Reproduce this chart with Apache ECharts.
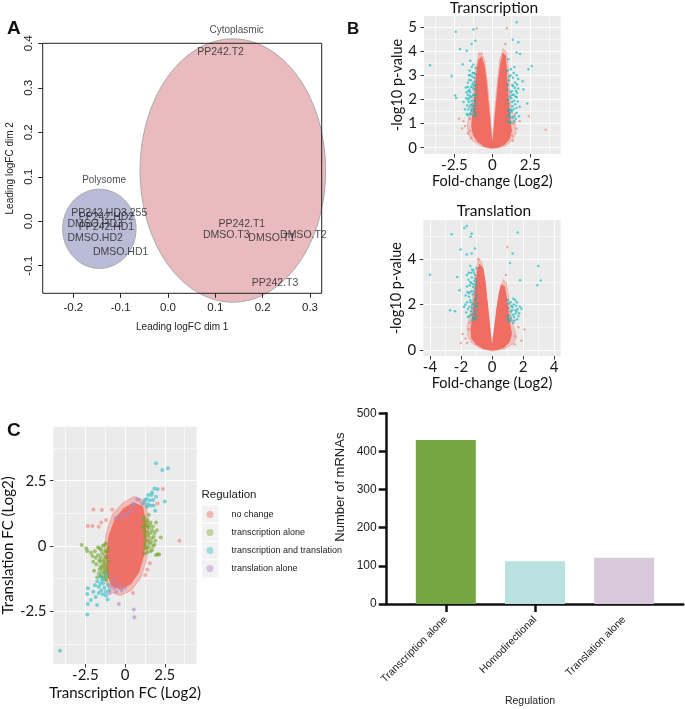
<!DOCTYPE html>
<html><head><meta charset="utf-8">
<script src="https://cdn.jsdelivr.net/npm/echarts@6/dist/echarts.min.js"></script>
<style>html,body{margin:0;padding:0;background:#fff}#c{width:685px;height:709px}</style>
</head><body><div id="c"></div>
<script>
// ---------- Panel A (MDS plot) ----------
const pcaSamples = ['PP242.T2','PP242.T1','DMSO.T3','DMSO.T1','DMSO.T2','PP242.T3','PP242.HD3.255','PP242.HD2','DMSO.HD3','PP242.HD1','DMSO.HD2','DMSO.HD1'];
const pcaDim1 = [0.111, 0.156, 0.123, 0.219, 0.286, 0.226, -0.124, -0.130, -0.154, -0.130, -0.154, -0.100];
const pcaDim2 = [0.381, -0.007, -0.032, -0.038, -0.032, -0.138, 0.019, 0.009, -0.006, -0.013, -0.038, -0.069];
const groupNames = ['Cytoplasmic', 'Polysome'];
const groupCenterX = [0.137, -0.145];
const groupCenterY = [0.114, -0.017];
const groupRadiusX = [0.196, 0.0775];
const groupRadiusY = [0.296, 0.089];
const groupLabelX = [0.145, -0.135];
const groupLabelY = [0.430, 0.092];
const pcaTicksX = [-0.2, -0.1, 0.0, 0.1, 0.2, 0.3];
const pcaTicksY = [-0.1, 0.0, 0.1, 0.2, 0.3, 0.4];

// ---------- Panel B (volcano plots) ----------
const txCore = [[0,0],[-0.5,0.05],[-0.95,0.25],[-1.25,0.55],[-1.35,0.9],[-1.3,1.3],[-1.2,1.8],[-1.12,2.4],[-1.05,2.9],[-0.98,3.3],[-0.88,3.65],[-0.72,3.75],[-0.55,3.4],[-0.42,2.8],[-0.3,2.0],[-0.18,1.2],[-0.07,0.4],[0,0.15],[0.07,0.4],[0.18,1.2],[0.3,2.0],[0.42,2.8],[0.55,3.45],[0.7,3.9],[0.85,3.8],[0.92,3.2],[0.98,2.6],[1.05,1.9],[1.15,1.2],[1.25,0.7],[1.1,0.35],[0.75,0.12],[0.35,0.02]];
const txHalo = [[0,-0.05],[-0.7,0.05],[-1.3,0.3],[-1.6,0.6],[-1.65,1.0],[-1.45,1.4],[-1.32,2.0],[-1.22,2.6],[-1.12,3.1],[-1.02,3.5],[-0.9,3.85],[-0.7,3.95],[-0.5,3.6],[-0.36,2.9],[-0.22,2.0],[-0.1,1.0],[0,0.45],[0.1,1.0],[0.22,2.0],[0.36,2.9],[0.5,3.7],[0.72,4.1],[0.93,3.95],[1.03,3.4],[1.1,2.7],[1.18,2.0],[1.32,1.4],[1.5,1.0],[1.55,0.6],[1.3,0.3],[0.8,0.05]];
const txRed = [[-2.0,0.8],[-1.8,0.9],[-1.6,0.6],[-1.5,1.2],[-1.9,1.1],[1.5,1.4],[1.6,0.8],[2.4,1.3],[3.5,0.75],[-1.03,4.95],[0.95,4.95],[-0.85,3.9],[0.85,4.3],[1.3,0.5],[-1.4,0.4],[1.8,1.1],[-2.2,1.2],[1.4,1.0],[-1.45,0.7],[1.35,0.3]];
const txTeal = [[1.6,5.2],[-2.41,4.81],[-1.25,4.9],[-1.12,4.43],[-2.13,4.09],[1.34,4.48],[1.71,4.37],[-1.36,4.3],[-4.1,3.42],[-1.69,4.02],[-1.95,3.46],[1.6,3.95],[1.82,3.88],[1.05,3.67],[2.59,3.39],[2.37,3.25],[2.0,2.76],[-2.68,2.97],[-2.45,2.16],[-2.39,2.06],[2.3,1.83],[2.04,2.41],
[-1.1,3.3],[-1.3,3.1],[-1.5,3.2],[-1.2,2.9],[-1.4,2.8],[-1.6,2.7],[-1.1,2.6],[-1.3,2.5],[-1.5,2.4],[-1.7,2.3],[-1.2,2.2],[-1.4,2.1],[-1.6,2.0],[-1.1,1.9],[-1.3,1.8],[-1.5,1.7],[-1.8,1.6],[-1.2,1.5],[-1.4,1.4],[-1.6,1.35],[-1.15,1.3],[-1.9,1.9],[-1.25,2.7],[-1.45,2.3],[-1.35,1.6],[-1.55,1.9],[-1.05,2.4],[-1.75,2.5],[-1.2,1.35],[-1.45,3.0],
[-1.08,1.42],[-1.18,1.62],[-1.28,1.72],[-1.38,1.95],[-1.48,2.15],[-1.58,2.35],[-1.12,2.05],[-1.22,2.42],[-1.32,2.62],[-1.42,2.52],[-1.52,2.82],[-1.62,2.52],[-1.12,2.75],[-1.22,3.1],[-1.35,3.35],[-1.55,3.0],[-1.65,1.75],[-1.72,2.05],[-1.08,1.75],[-1.18,2.58],[-1.28,2.18],[-1.38,1.52],[-1.48,1.42],[-1.58,1.58],[-1.68,1.4],[-1.12,3.05],[-1.25,3.45],[-1.45,3.6],[-1.02,2.2],[-1.42,1.78],[-1.52,2.05],[-1.62,2.2],[-1.32,2.95],[-1.22,1.95],
[1.0,3.2],[1.2,3.0],[1.4,3.1],[1.1,2.8],[1.3,2.6],[1.5,2.7],[1.0,2.4],[1.2,2.3],[1.4,2.2],[1.6,2.1],[1.05,2.0],[1.3,1.9],[1.5,1.8],[1.1,1.6],[1.3,1.5],[1.6,1.45],[1.0,1.3],[1.2,1.25],[1.45,1.3],[1.8,1.7],[1.7,2.45],[1.25,2.05],[1.55,2.35],[1.15,1.45],[1.35,2.9],[1.25,1.05],[1.45,1.1],
[1.02,1.12],[1.12,1.35],[1.22,1.55],[1.32,1.72],[1.42,1.95],[1.52,2.12],[1.62,2.28],[1.08,1.82],[1.18,2.12],[1.28,2.35],[1.38,2.55],[1.48,2.48],[1.58,1.65],[1.68,1.92],[1.02,2.62],[1.12,2.95],[1.22,3.25],[1.45,3.35],[1.6,3.0],[1.05,1.55],[1.15,1.05],[1.35,1.25],[1.55,1.2],[1.75,1.3],[1.3,2.2],[1.4,1.6],[1.62,2.62],[1.7,2.85]];
const tlCore = [[0,0],[-0.5,0.05],[-1.0,0.25],[-1.3,0.5],[-1.35,0.9],[-1.25,1.4],[-1.15,2.0],[-1.08,2.6],[-1.0,3.1],[-0.92,3.5],[-0.8,3.75],[-0.6,3.6],[-0.45,3.0],[-0.3,2.0],[-0.18,1.2],[-0.07,0.4],[0,0.15],[0.08,0.4],[0.2,1.1],[0.32,1.8],[0.45,2.4],[0.6,2.85],[0.8,2.8],[0.95,2.2],[1.05,1.6],[1.15,1.1],[1.25,0.7],[1.1,0.35],[0.75,0.12],[0.35,0.02]];
const tlHalo = [[0,-0.05],[-0.7,0.05],[-1.3,0.3],[-1.55,0.6],[-1.6,1.0],[-1.42,1.5],[-1.28,2.1],[-1.18,2.7],[-1.08,3.2],[-0.98,3.7],[-0.85,4.05],[-0.65,3.85],[-0.5,3.2],[-0.35,2.2],[-0.2,1.3],[-0.08,0.6],[0,0.4],[0.1,0.7],[0.24,1.3],[0.38,2.1],[0.53,2.7],[0.73,3.1],[0.93,2.95],[1.08,2.3],[1.18,1.7],[1.32,1.2],[1.5,0.8],[1.55,0.5],[1.3,0.25],[0.8,0.05]];
const tlRed = [[-1.7,0.5],[-1.5,0.9],[-1.9,0.7],[1.5,0.6],[1.7,1.0],[2.1,0.9],[0.99,4.54],[0.9,3.3],[-0.9,4.0],[1.3,1.3],[-1.45,1.2],[1.9,0.4],[-2.0,0.3],[-1.6,0.3],[1.45,0.25]];
const tlTeal = [[-1.63,5.47],[-1.78,5.38],[-2.6,5.1],[-1.31,5.13],[-1.38,4.99],[1.66,5.18],[-4.0,3.32],[-2.02,4.43],[-1.63,4.21],[-1.31,4.25],[-1.1,4.47],[1.33,4.25],[1.16,3.84],[2.99,3.7],[3.14,3.06],[2.92,2.85],[1.81,3.07],[-2.1,2.63],[-2.24,3.22],[-2.71,1.75],[-2.39,1.71],[1.38,2.26],[1.59,1.68],[1.91,1.82],
[-1.0,3.6],[-1.2,3.5],[-1.4,3.7],[-1.1,3.3],[-1.3,3.2],[-1.5,3.4],[-1.0,3.0],[-1.2,2.9],[-1.4,3.0],[-1.6,2.8],[-1.05,2.7],[-1.3,2.6],[-1.5,2.5],[-1.7,2.4],[-1.0,2.4],[-1.15,2.2],[-1.4,2.2],[-1.6,2.1],[-1.1,1.95],[-1.3,1.85],[-1.55,1.8],[-1.0,1.7],[-1.2,1.6],[-1.45,1.5],[-1.1,1.35],[-1.3,1.3],[-1.8,1.9],[-1.25,2.45],[-0.95,2.05],[-1.35,1.55],
[-0.98,1.45],[-1.08,1.6],[-1.18,1.78],[-1.28,1.98],[-1.38,2.1],[-1.48,2.35],[-1.58,2.55],[-1.02,2.28],[-1.12,2.55],[-1.22,2.78],[-1.32,2.95],[-1.42,2.85],[-1.52,3.1],[-1.62,3.3],[-1.08,3.15],[-1.18,3.4],[-1.28,3.55],[-1.02,2.85],[-1.22,2.05],[-1.35,1.7],[-1.45,1.9],[-1.55,1.45],[-1.65,1.65],[-1.72,2.0],[-1.12,1.4],[-1.25,1.42],[-0.95,1.9],[-1.4,2.55],[-1.15,3.05],[-1.35,3.4],
[1.0,2.2],[1.2,2.1],[1.4,2.0],[1.6,2.1],[1.05,1.85],[1.3,1.75],[1.5,1.6],[1.7,1.5],[1.0,1.5],[1.2,1.4],[1.45,1.3],[1.1,1.25],[1.8,1.9],[1.35,1.55],[1.55,1.95],
[1.02,1.35],[1.12,1.52],[1.22,1.68],[1.32,1.88],[1.42,1.45],[1.52,1.75],[1.62,1.35],[1.08,2.05],[1.25,1.95],[1.65,1.8],[1.75,1.62],[1.18,1.3],[1.38,1.2],[1.5,2.2]];
const txTicksX = [-2.5, 0, 2.5];
const txMinorX = [-3.75, -1.25, 1.25, 3.75];
const txTicksY = [0, 1, 2, 3, 4, 5];
const txMinorY = [0.5, 1.5, 2.5, 3.5, 4.5];
const tlTicksX = [-4, -2, 0, 2, 4];
const tlMinorX = [-3, -1, 1, 3];
const tlTicksY = [0, 2, 4];
const tlMinorY = [1, 3, 5];

// ---------- Panel C (FC scatter) ----------
const scCore = [[1.1,1.5],[1.28,0.9],[1.3,0.3],[1.15,-0.4],[0.85,-1.0],[0.35,-1.45],[-0.3,-1.65],[-0.85,-1.5],[-1.12,-1.0],[-1.15,-0.3],[-1.0,0.4],[-0.6,1.05],[-0.05,1.45],[0.55,1.65]];
const scHalo = [[1.3,1.7],[1.45,1.0],[1.5,0.3],[1.35,-0.5],[1.0,-1.2],[0.4,-1.7],[-0.3,-1.9],[-0.95,-1.75],[-1.3,-1.2],[-1.35,-0.4],[-1.2,0.45],[-0.8,1.2],[-0.15,1.65],[0.6,1.9]];
const scNoChange = [[-1.99,1.4],[-2.34,0.77],[-2.05,0.77],[-1.66,0.74],[-1.46,1.38],[3.42,0.2],[2.38,2.18],[2.05,1.63],[1.27,-1.11],[1.56,-0.66],[-1.5,0.9],[-1.2,1.0],[-0.8,1.4],[0.5,-1.8],[1.4,-0.9]];
const scTxAlone = [[-2.73,0.04],[-2.44,-0.09],[-2.38,-0.19],[-2.05,-0.38],[-2.15,-0.26],[-1.2,0.1],[-1.4,0.0],[-1.6,-0.1],[-1.25,-0.2],[-1.45,-0.3],[-1.7,-0.35],[-1.15,-0.45],[-1.35,-0.55],[-1.55,-0.6],[-1.2,-0.75],[-1.4,-0.85],[-1.6,-0.9],[-1.1,-1.0],[-1.3,-1.05],[-1.5,-1.15],[-1.75,-1.2],[-1.8,-0.7],[-1.9,-0.2],[-1.05,-0.1],[-1.2,-1.3],
[-1.12,-0.2],[-1.22,-0.4],[-1.32,-0.65],[-1.42,-0.75],[-1.52,-0.45],[-1.62,-0.55],[-1.15,-0.85],[-1.25,-0.95],[-1.35,-1.2],[-1.45,-1.0],[-1.55,-0.8],[-1.65,-1.05],[-1.05,-0.6],[-1.1,-1.2],[-1.3,0.05],[-1.5,-0.15],[-1.7,-0.05],[-1.85,-0.45],[-2.0,-0.6],[-1.95,-0.95],
[1.2,1.1],[1.4,1.0],[1.3,0.8],[1.5,0.7],[1.7,0.6],[1.25,0.5],[1.45,0.4],[1.65,0.3],[1.85,0.5],[1.3,0.2],[1.55,0.1],[1.75,0.0],[1.35,-0.1],[1.6,-0.2],[1.9,0.2],[1.2,-0.3],[1.4,0.55],[2.25,0.33],[1.95,-0.34],[2.05,-0.32],[2.15,-0.33],[1.6,0.9],[1.1,0.75],
[1.15,1.0],[1.35,0.9],[1.55,0.8],[1.75,0.75],[1.2,0.65],[1.4,0.75],[1.6,0.5],[1.8,0.35],[1.25,0.35],[1.45,0.2],[1.65,0.15],[1.85,0.05],[1.3,-0.05],[1.5,-0.05],[1.7,-0.15],[1.4,-0.25],[1.25,0.05],[2.0,0.6],[1.95,0.9],[1.5,1.2]];
const scBoth = [[1.95,3.17],[2.34,2.91],[2.7,2.98],[2.05,2.17],[1.95,1.89],[2.5,1.7],[1.46,1.95],[1.66,1.95],[1.76,1.76],[1.17,1.63],[1.37,1.5],[1.55,1.75],[1.25,1.75],[1.8,1.55],
[1.45,1.6],[1.6,1.55],[1.7,2.05],[1.85,2.2],[1.35,1.8],[1.9,1.35],
[-2.34,-1.62],[-2.38,-1.84],[-2.15,-2.07],[-2.34,-2.22],[-1.76,-2.26],[-2.38,-2.62],[-4.1,-4.01],[-1.56,-1.17],[-1.46,-1.3],[-1.17,-1.11],[-1.37,-1.43],[-1.21,-1.75],[-1.07,-1.49],[-1.66,-1.56],[-1.3,-1.6],[-1.5,-1.7],[-1.2,-1.9],[-1.0,-1.7],[-1.9,-1.5],[-1.75,-1.35],
[-1.35,-1.25],[-1.55,-1.45],[-1.65,-1.8],[-1.4,-1.85],[-1.1,-2.05],[-1.85,-1.95],[-2.0,-1.75]];
const scTlAlone = [[0.88,1.76],[0.59,1.57],[0.39,1.38],[0.2,1.25],[0.0,1.19],[-0.59,1.06],[1.07,1.63],[0.75,1.8],[-0.3,1.15],[0.5,1.6],
[-0.78,-1.3],[-0.49,-1.43],[-0.29,-1.56],[-0.68,-1.62],[-0.98,-1.81],[-0.39,-2.22],[0.55,-2.43],[0.59,-2.73],[-0.2,-1.7],[-0.55,-1.75],[0.0,-1.6],[-0.85,-1.55]];
const scTicks = [-2.5, 0, 2.5];
const scMinor = [-3.75, -1.25, 1.25, 3.75];
const regulationNames = ['no change', 'transcription alone', 'transcription and translation', 'translation alone'];

// ---------- Bar chart ----------
const barCategories = ['Transcription alone', 'Homodirectional', 'Translation alone'];
const barValues = [430, 112, 121];
const barPositions = [1, 2, 3];

// ================= rendering =================
const FR = '"Liberation Sans", Arial, sans-serif';
const FG = 'Lato, "Open Sans", sans-serif';
const chart = echarts.init(document.getElementById('c'), null, {renderer: 'canvas'});

function ggMajor(grid, min, max, ticks, isY, name, nameGap, extra) {
  return Object.assign({
    gridIndex: grid, type: 'value', min: min, max: max,
    name: name, nameLocation: 'middle', nameGap: nameGap,
    nameTextStyle: {fontFamily: FG, fontSize: 14.5, color: '#111'},
    axisLine: {show: false, onZero: false},
    axisTick: {show: true, inside: false, length: 3.5, customValues: ticks, lineStyle: {color: '#333', width: 1}},
    axisLabel: {customValues: ticks, fontFamily: FG, fontSize: 15, color: '#1a1a1a', margin: isY ? 7 : 4},
    splitLine: {show: true, lineStyle: {color: '#ffffff', width: 1.1}}
  }, extra || {});
}
function ggMinor(grid, min, max, ticks) {
  return {
    gridIndex: grid, type: 'value', min: min, max: max,
    axisLine: {show: false, onZero: false},
    axisTick: {show: false, customValues: ticks},
    axisLabel: {show: false},
    splitLine: {show: true, lineStyle: {color: '#ffffff', width: 0.6}}
  };
}
function polygonRenderer(outline, color) {
  return function (params, api) {
    if (params.dataIndex !== 0) return null;
    const pts = outline.map(p => api.coord(p));
    return {type: 'polygon', shape: {points: pts}, style: {fill: color, stroke: color, lineWidth: 1.2}};
  };
}

const TX = [-4.5, 4.5], TY = [-0.26, 5.46];
const LX = [-4.43, 4.43], LY = [-0.27, 5.72];
const CX = [-4.51, 4.51], CY = [-4.52, 4.57];
const tpad = {padding: 0};

const option = {
  animation: false,
  backgroundColor: '#ffffff',
  title: [
    Object.assign({text: 'A', left: 7, top: 19, textStyle: {fontFamily: FR, fontSize: 19, fontWeight: 'bold', color: '#111'}}, tpad),
    Object.assign({text: 'B', left: 347, top: 21, textStyle: {fontFamily: FR, fontSize: 17, fontWeight: 'bold', color: '#111'}}, tpad),
    Object.assign({text: 'C', left: 7, top: 421, textStyle: {fontFamily: FR, fontSize: 19, fontWeight: 'bold', color: '#111'}}, tpad),
    Object.assign({text: 'Transcription', left: 494, top: 0, textAlign: 'center', textStyle: {fontFamily: FG, fontSize: 15.5, fontWeight: 'normal', color: '#111'}}, tpad),
    Object.assign({text: 'Translation', left: 494, top: 203, textAlign: 'center', textStyle: {fontFamily: FG, fontSize: 15.5, fontWeight: 'normal', color: '#111'}}, tpad),
    Object.assign({text: 'Regulation', left: 201.5, top: 489, textStyle: {fontFamily: FR, fontSize: 11.5, fontWeight: 'normal', color: '#222'}}, tpad)
  ],
  graphic: [0, 1, 2, 3].map(i => ({type: 'rect', left: 202, top: 505.5 + i * 18.3, shape: {width: 16.5, height: 17}, style: {fill: '#f2f2f2'}, z: 0})),
  legend: {
    orient: 'vertical', left: 206.5, top: 510, padding: 0, itemWidth: 7, itemHeight: 7, itemGap: 9, selectedMode: false,
    textStyle: {fontFamily: FR, fontSize: 9, color: '#222', padding: [0, 0, 0, 13]},
    data: [
      {name: regulationNames[0], icon: 'circle', itemStyle: {color: '#f3a59d'}},
      {name: regulationNames[1], icon: 'circle', itemStyle: {color: '#b2cc8b'}},
      {name: regulationNames[2], icon: 'circle', itemStyle: {color: '#8bd6d8'}},
      {name: regulationNames[3], icon: 'circle', itemStyle: {color: '#cdb5dd'}}
    ]
  },
  grid: [
    {left: 42.7, top: 43.3, width: 279, height: 250, show: true, borderColor: '#222', borderWidth: 1, backgroundColor: 'transparent'},
    {left: 424, top: 16, width: 136.7, height: 138, show: true, backgroundColor: '#ebebeb', borderWidth: 0},
    {left: 423.3, top: 220.3, width: 137.4, height: 135.7, show: true, backgroundColor: '#ebebeb', borderWidth: 0},
    {left: 42.7, top: 426.7, width: 154, height: 237.3, show: true, backgroundColor: '#ebebeb', borderWidth: 0},
    {left: 386.7, top: 413.3, right: 1.7, height: 190.7, show: false}
  ],
  xAxis: [
    {gridIndex: 0, type: 'value', min: -0.2647, max: 0.3247,
     name: 'Leading logFC dim 1', nameLocation: 'middle', nameGap: 29,
     nameTextStyle: {fontFamily: FR, fontSize: 10, color: '#222'},
     axisLine: {show: false, onZero: false},
     axisTick: {show: true, inside: false, length: 4.5, customValues: pcaTicksX, lineStyle: {color: '#222'}},
     axisLabel: {customValues: pcaTicksX, formatter: v => v.toFixed(1), fontFamily: FR, fontSize: 11.5, color: '#222', margin: 9},
     splitLine: {show: false}},
    ggMajor(1, TX[0], TX[1], txTicksX, false, 'Fold-change (Log2)', 17.5),
    ggMinor(1, TX[0], TX[1], txMinorX),
    ggMajor(2, LX[0], LX[1], tlTicksX, false, 'Fold-change (Log2)', 19),
    ggMinor(2, LX[0], LX[1], tlMinorX),
    ggMajor(3, CX[0], CX[1], scTicks, false, 'Transcription FC (Log2)', 22, {nameTextStyle: {fontFamily: FG, fontSize: 15, color: '#111'}}),
    ggMinor(3, CX[0], CX[1], scMinor),
    {gridIndex: 4, type: 'value', min: 0.337, max: 3.663,
     name: 'Regulation', nameLocation: 'middle', nameGap: 92,
     nameTextStyle: {fontFamily: FR, fontSize: 10.5, color: '#222', padding: [0, 10, 0, 0]},
     axisLine: {show: true, onZero: false, lineStyle: {color: '#111', width: 2.5}},
     axisTick: {show: true, inside: false, length: 8, customValues: [barPositions[0], barPositions[1]], lineStyle: {color: '#111', width: 2.5}},
     axisLabel: {customValues: barPositions, formatter: v => barCategories[Math.round(v) - 1], rotate: 45, fontFamily: FR, fontSize: 10.5, color: '#222', margin: 14},
     splitLine: {show: false}}
  ],
  yAxis: [
    {gridIndex: 0, type: 'value', min: -0.162, max: 0.4,
     name: 'Leading logFC dim 2', nameLocation: 'middle', nameGap: 27.5,
     nameTextStyle: {fontFamily: FR, fontSize: 10, color: '#222'},
     axisLine: {show: false, onZero: false},
     axisTick: {show: true, inside: false, length: 4.5, customValues: pcaTicksY, lineStyle: {color: '#222'}},
     axisLabel: {customValues: pcaTicksY, formatter: v => v.toFixed(1), rotate: 90, fontFamily: FR, fontSize: 11.5, color: '#222', margin: 8},
     splitLine: {show: false}},
    ggMajor(1, TY[0], TY[1], txTicksY, true, '-log10 p-value', 19),
    ggMinor(1, TY[0], TY[1], txMinorY),
    ggMajor(2, LY[0], LY[1], tlTicksY, true, '-log10 p-value', 19),
    ggMinor(2, LY[0], LY[1], tlMinorY),
    ggMajor(3, CY[0], CY[1], scTicks, true, 'Translation FC (Log2)', 29, {nameTextStyle: {fontFamily: FG, fontSize: 15, color: '#111'}}),
    ggMinor(3, CY[0], CY[1], scMinor),
    {gridIndex: 4, type: 'value', min: 0, max: 500, interval: 100,
     name: 'Number of mRNAs', nameLocation: 'middle', nameGap: 40,
     nameTextStyle: {fontFamily: FR, fontSize: 13, color: '#222', padding: [0, 0, 0, 43]},
     axisLine: {show: true, onZero: false, lineStyle: {color: '#111', width: 2.5}},
     axisTick: {show: true, inside: false, length: 8, lineStyle: {color: '#111', width: 2.5}},
     axisLabel: {fontFamily: FR, fontSize: 12, color: '#222', margin: 10},
     splitLine: {show: false}}
  ],
  series: [
    {type: 'custom', name: 'groups', xAxisIndex: 0, yAxisIndex: 0, clip: false, z: -1,
     data: groupNames.map((g, i) => [groupCenterX[i], groupCenterY[i], groupRadiusX[i], groupRadiusY[i]]),
     renderItem: function (params, api) {
       const cx = api.value(0), cy = api.value(1), rx = api.value(2), ry = api.value(3);
       const pts = [];
       for (let k = 0; k < 120; k++) {
         const t = k / 120 * Math.PI * 2;
         pts.push(api.coord([cx + rx * Math.cos(t), cy + ry * Math.sin(t)]));
       }
       const fill = params.dataIndex === 0 ? '#e9bbbf' : '#babcd7';
       return {type: 'polygon', shape: {points: pts}, style: {fill: fill, stroke: '#a9a9a9', lineWidth: 1}};
     }},
    {type: 'scatter', name: 'samples', xAxisIndex: 0, yAxisIndex: 0, clip: false, symbolSize: 0, silent: true,
     data: pcaSamples.map((s, i) => [pcaDim1[i], pcaDim2[i], s]),
     label: {show: true, position: 'inside', formatter: p => p.data[2], fontFamily: FR, fontSize: 10.5, color: '#222'}},
    {type: 'scatter', name: 'groupLabels', xAxisIndex: 0, yAxisIndex: 0, clip: false, symbolSize: 0, silent: true,
     data: groupNames.map((g, i) => [groupLabelX[i], groupLabelY[i], g]),
     label: {show: true, position: 'inside', formatter: p => p.data[2], fontFamily: FR, fontSize: 10, color: '#222'}},
    // Panel B transcription
    {type: 'custom', name: 'tx-halo', xAxisIndex: 1, yAxisIndex: 1, data: txHalo, renderItem: polygonRenderer(txHalo, 'rgba(242,125,115,0.35)')},
    {type: 'custom', name: 'tx-core', xAxisIndex: 1, yAxisIndex: 1, data: txCore, renderItem: polygonRenderer(txCore, '#ef6d62')},
    {type: 'scatter', name: 'tx-ns', xAxisIndex: 1, yAxisIndex: 1, symbolSize: 2.5, data: txRed, itemStyle: {color: 'rgba(240,110,100,0.7)'}},
    {type: 'scatter', name: 'tx-sig', xAxisIndex: 1, yAxisIndex: 1, symbolSize: 2.5, data: txTeal, itemStyle: {color: 'rgba(0,185,190,0.8)'}},
    // Panel B translation
    {type: 'custom', name: 'tl-halo', xAxisIndex: 3, yAxisIndex: 3, data: tlHalo, renderItem: polygonRenderer(tlHalo, 'rgba(242,125,115,0.35)')},
    {type: 'custom', name: 'tl-core', xAxisIndex: 3, yAxisIndex: 3, data: tlCore, renderItem: polygonRenderer(tlCore, '#ef6d62')},
    {type: 'scatter', name: 'tl-ns', xAxisIndex: 3, yAxisIndex: 3, symbolSize: 2.5, data: tlRed, itemStyle: {color: 'rgba(240,110,100,0.7)'}},
    {type: 'scatter', name: 'tl-sig', xAxisIndex: 3, yAxisIndex: 3, symbolSize: 2.5, data: tlTeal, itemStyle: {color: 'rgba(0,185,190,0.8)'}},
    // Panel C
    {type: 'custom', name: 'sc-halo', xAxisIndex: 5, yAxisIndex: 5, data: scHalo, renderItem: polygonRenderer(scHalo, 'rgba(242,130,120,0.45)')},
    {type: 'custom', name: 'sc-core', xAxisIndex: 5, yAxisIndex: 5, data: scCore, renderItem: polygonRenderer(scCore, '#ef7067')},
    {type: 'scatter', name: regulationNames[0], xAxisIndex: 5, yAxisIndex: 5, symbolSize: 4, data: scNoChange, itemStyle: {color: 'rgba(240,100,90,0.6)'}},
    {type: 'scatter', name: regulationNames[1], xAxisIndex: 5, yAxisIndex: 5, symbolSize: 4, data: scTxAlone, itemStyle: {color: 'rgba(110,165,40,0.75)'}},
    {type: 'scatter', name: regulationNames[2], xAxisIndex: 5, yAxisIndex: 5, symbolSize: 4, data: scBoth, itemStyle: {color: 'rgba(40,190,195,0.75)'}},
    {type: 'scatter', name: regulationNames[3], xAxisIndex: 5, yAxisIndex: 5, symbolSize: 4, data: scTlAlone, itemStyle: {color: 'rgba(175,135,200,0.75)'}},
    // Bar chart
    {type: 'bar', name: 'counts', xAxisIndex: 7, yAxisIndex: 7, barWidth: 60,
     data: barValues.map((v, i) => ({value: [barPositions[i], v], itemStyle: {color: ['#76a640', '#b9e1df', '#d9c8dc'][i]}}))}
  ]
};
chart.setOption(option);
</script></body></html>
